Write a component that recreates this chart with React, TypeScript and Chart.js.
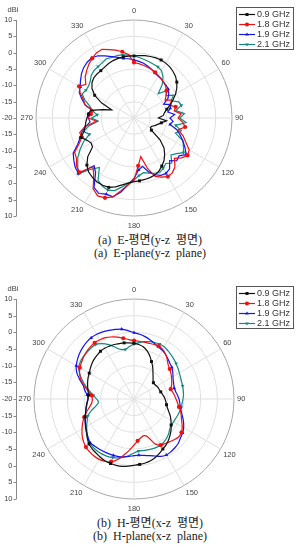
import React, { useEffect, useRef } from 'react';
import { Chart, registerables } from 'chart.js';
import { drawPoint } from 'chart.js/helpers';

Chart.register(...registerables);

// ---------- data ----------
const ANGLE_LABELS = [
  '0', '5', '10', '15', '20', '25', '30', '35', '40', '45', '50', '55',
  '60', '65', '70', '75', '80', '85', '90', '95', '100', '105', '110', '115',
  '120', '125', '130', '135', '140', '145', '150', '155', '160', '165', '170', '175',
  '180', '185', '190', '195', '200', '205', '210', '215', '220', '225', '230', '235',
  '240', '245', '250', '255', '260', '265', '270', '275', '280', '285', '290', '295',
  '300', '305', '310', '315', '320', '325', '330', '335', '340', '345', '350', '355',
];

const RING_MIN = -20;
const RING_MAX = 10;
const RING_STEP = 5;

const SERIES_NAMES = ['0.9 GHz', '1.8 GHz', '1.9 GHz', '2.1 GHz'];

// E-plane (y-z plane)
const E_09 = [
  -1.0, -0.8, -0.6, -0.5, -0.4, -0.4, -0.6, -0.9, -1.4, -2.0,
  -2.9, -4.0, -5.3, -6.8, -8.2, -9.6, -10.5, -11.0, -12.5, -10.0,
  -11.5, -12.5, -13.2, -14.0, -14.2, -13.5, -9.6, -7.0, -5.4, -4.0,
  -3.0, -2.0, -1.4, -1.1, -0.9, -0.7, -0.5, 0.0, 0.8, 1.8,
  2.6, 2.7, 2.6, 2.2, 1.6, 0.4, -1.5, -4.5, -4.8, -4.0,
  -2.7, -4.2, -4.8, -5.2, -5.6, -6.0, -6.5, -10.0, -12.7, -9.0,
  -6.1, -4.3, -3.2, -2.6, -2.4, -2.3, -2.0, -1.6, -1.3, -1.1,
  -1.0, -1.0,
];
const E_18 = [
  -3.0, -3.3, -3.6, -3.9, -4.2, -4.6, -5.0, -5.4, -5.8, -6.3,
  -7.0, -8.0, -9.0, -7.0, -8.5, -6.8, -7.5, -5.5, -6.5, -5.0,
  -4.1, -6.0, -4.0, -2.5, -0.5, 0.0, -1.0, -2.5, -0.5, 0.5,
  0.7, 0.0, -1.0, -4.0, -8.0, -5.3, -1.0, 0.5, 2.5, 5.0,
  6.0, 6.3, 5.0, 1.5, -0.5, 3.5, 3.0, 1.5, 1.0, -1.5,
  -3.0, -2.8, -4.7, -8.5, -6.0, -6.7, -7.5, -4.5, -3.5, -1.8,
  -0.6, -2.0, -0.5, 0.5, 1.5, 2.3, 3.0, 3.2, 2.3, 1.5,
  0.6, -0.5,
];
const E_19 = [
  -2.2, -2.6, -3.0, -3.6, -4.2, -4.8, -5.2, -5.5, -5.8, -6.0,
  -6.3, -7.0, -8.0, -10.0, -8.0, -8.5, -9.5, -7.5, -9.0, -8.0,
  -8.8, -6.5, -5.0, -3.5, -2.0, -0.5, -2.0, -1.5, -3.0, -1.0,
  -0.4, -0.6, -1.5, -3.0, -5.0, -4.0, -1.5, 0.5, 3.0, 5.0,
  4.8, 5.5, 4.5, 0.5, -1.0, 4.0, 3.5, 2.5, 1.5, -1.0,
  -2.5, -3.5, -5.0, -6.5, -6.0, -6.0, -7.0, -4.5, -3.0, -1.5,
  -1.0, 0.0, 1.0, 1.8, 2.3, 2.5, 2.0, 1.0, 0.0, -0.8,
  -1.5, -1.8,
];
const E_21 = [
  -1.0, -1.4, -1.8, -2.2, -2.5, -2.7, -3.2, -4.5, -6.5, -9.5,
  -7.0, -8.0, -6.0, -7.5, -5.5, -5.0, -7.0, -4.5, -6.0, -4.0,
  -7.0, -5.0, -6.5, -3.5, -2.5, -1.5, -3.0, -4.0, -2.0, -3.0,
  -2.2, -1.5, -2.0, -2.5, -3.0, -2.3, -1.0, 0.0, 1.5, 3.0,
  3.5, 3.0, 2.0, -1.5, 0.5, 4.2, 2.5, 1.0, -1.0, -3.0,
  -5.5, -4.0, -6.0, -9.0, -7.0, -8.7, -7.0, -6.0, -4.0, -2.5,
  -3.0, -3.0, -2.5, -1.5, -1.0, -0.8, -0.5, 0.0, -0.3, -0.2,
  -0.4, -0.7,
];

// H-plane (x-z plane)
const H_09 = [
  -3.3, -3.6, -4.1, -5.0, -6.2, -7.6, -8.8, -10.1, -11.1, -11.9,
  -12.4, -12.4, -12.2, -12.0, -11.9, -11.7, -11.4, -11.0, -10.7, -10.4,
  -10.1, -9.6, -8.9, -8.0, -7.2, -6.4, -5.5, -4.7, -3.9, -3.2,
  -2.7, -2.0, -1.3, -0.8, -0.5, -0.3, -0.1, 0.2, 0.5, 0.6,
  0.6, 0.5, 0.2, -0.2, -0.5, -0.9, -1.7, -2.6, -3.3, -3.9,
  -4.4, -5.0, -5.4, -5.8, -6.2, -6.3, -6.0, -5.6, -5.2, -4.8,
  -4.5, -4.0, -3.5, -3.1, -2.8, -2.5, -2.4, -2.5, -2.6, -2.8,
  -2.9, -3.1,
];
const H_18 = [
  -2.5, -2.6, -2.7, -2.7, -2.6, -2.5, -2.8, -3.5, -4.5, -5.5,
  -6.0, -6.5, -7.0, -7.5, -8.0, -8.6, -8.2, -7.8, -7.4, -6.9,
  -6.3, -5.5, -4.9, -4.2, -3.3, -2.6, -2.4, -2.8, -3.3, -3.7,
  -4.0, -5.2, -7.9, -8.6, -8.2, -7.4, -6.2, -4.6, -3.0, -1.2,
  0.0, 0.6, 0.9, 0.9, 0.7, 0.4, -0.2, -1.0, -2.0, -3.0,
  -4.1, -5.3, -6.5, -7.3, -7.5, -7.2, -6.0, -4.5, -3.0, -2.0,
  -1.2, -0.8, -0.3, 0.1, 0.4, 0.6, 0.5, 0.3, -0.2, -0.8,
  -1.5, -2.1,
];
const H_19 = [
  -0.1, -0.5, -1.0, -1.6, -2.2, -2.7, -3.1, -3.6, -4.2, -4.8,
  -5.2, -5.8, -6.5, -7.0, -7.3, -7.5, -7.3, -6.9, -6.5, -6.2,
  -5.9, -5.3, -4.5, -3.6, -2.8, -2.2, -1.8, -1.2, -0.9, -0.7,
  -0.6, -1.0, -1.8, -2.4, -2.8, -3.1, -3.0, -2.7, -2.4, -2.1,
  -2.0, -1.9, -1.8, -1.7, -1.6, -1.4, -2.0, -2.6, -3.2, -3.8,
  -4.4, -5.0, -5.5, -5.9, -6.2, -5.9, -5.0, -4.2, -2.6, -1.0,
  0.0, 0.7, 1.3, 1.8, 2.2, 2.4, 2.4, 2.2, 1.9, 1.6,
  1.3, 0.6,
];
const H_21 = [
  -3.5, -3.0, -2.5, -2.2, -2.0, -1.8, -1.9, -2.3, -2.7, -3.1,
  -3.5, -3.9, -4.3, -4.6, -4.8, -4.9, -5.0, -5.1, -5.3, -5.5,
  -5.6, -5.8, -6.0, -6.2, -6.3, -6.3, -6.0, -5.3, -4.7, -4.3,
  -4.0, -4.0, -4.1, -4.2, -4.3, -4.3, -3.8, -3.0, -2.3, -1.7,
  -1.3, -1.0, -0.9, -0.9, -1.0, -1.3, -2.0, -2.8, -3.6, -4.5,
  -5.3, -6.8, -8.5, -9.3, -8.8, -7.8, -6.5, -5.0, -3.5, -2.0,
  -0.8, -0.4, -0.2, -0.1, 0.0, 0.0, -0.8, -2.0, -3.5, -4.6,
  -4.9, -4.2,
];

const CAPTION_E = ['(a)  E-평면(y-z  평면)', '(a)  E-plane(y-z  plane)'];
const CAPTION_H = ['(b)  H-평면(x-z  평면)', '(b)  H-plane(x-z  plane)'];

// ---------- styles ----------
const COLORS = ['#111111', '#f01010', '#1414f0', '#138a80'];
const POINT_STYLES = ['rect', 'circle', 'triangle', 'triangle'];
const POINT_ROT = [0, 0, 0, 180];
const FONT = '"Liberation Sans", Arial, sans-serif';

const sideAxis = {
  id: 'sideAxis',
  afterDraw(chart: any) {
    const r = chart.scales.r;
    const ctx = chart.ctx;
    const yc = r.yCenter;
    const R = r.drawingArea;
    const ax = 16.5;
    ctx.save();
    ctx.strokeStyle = '#8a8a8a';
    ctx.lineWidth = 1;
    ctx.beginPath();
    ctx.moveTo(ax, yc - R);
    ctx.lineTo(ax, yc + R);
    ctx.stroke();
    ctx.font = `7.5px ${FONT}`;
    ctx.fillStyle = '#444';
    ctx.textAlign = 'right';
    ctx.textBaseline = 'middle';
    for (const t of r.ticks) {
      const d = r.getDistanceFromCenterForValue(t.value);
      const ys = d < 0.5 ? [yc] : [yc - d, yc + d];
      for (const y of ys) {
        const yy = Math.round(y) + 0.5;
        ctx.beginPath();
        ctx.moveTo(ax - 3, yy);
        ctx.lineTo(ax, yy);
        ctx.stroke();
        ctx.fillText(String(t.value), ax - 4, y);
      }
    }
    ctx.textAlign = 'center';
    ctx.fillText('dBi', 13, yc - R - 10);
    ctx.restore();
  },
};

const boxLegend = {
  id: 'boxLegend',
  afterDraw(chart: any) {
    const r = chart.scales.r;
    const ctx = chart.ctx;
    const top = Math.round(r.yCenter - r.drawingArea - 13);
    const left = 236;
    const w = 57;
    const h = 42;
    ctx.save();
    ctx.fillStyle = '#fff';
    ctx.fillRect(left, top, w, h);
    ctx.strokeStyle = '#555';
    ctx.lineWidth = 1;
    ctx.strokeRect(left + 0.5, top + 0.5, w, h);
    ctx.font = `9px ${FONT}`;
    ctx.textBaseline = 'middle';
    ctx.textAlign = 'left';
    chart.data.datasets.forEach((ds: any, i: number) => {
      const y = Math.round(top + 6.5 + i * 10) + 0.5;
      ctx.strokeStyle = ds.borderColor;
      ctx.lineWidth = 1.2;
      ctx.beginPath();
      ctx.moveTo(left + 3, y);
      ctx.lineTo(left + 19, y);
      ctx.stroke();
      ctx.fillStyle = ds.borderColor;
      drawPoint(ctx, { pointStyle: ds.pointStyle, radius: 2.1, rotation: ds.pointRotation || 0, borderWidth: 0 } as any, left + 11, y);
      ctx.fillStyle = '#333';
      ctx.fillText(ds.label, left + 21, y + 0.5);
    });
    ctx.restore();
  },
};

function makeConfig(series: number[][], tension: number, padTop: number, padBottom: number): any {
  return {
    type: 'radar',
    data: {
      labels: ANGLE_LABELS,
      datasets: series.map((d, i) => ({
        label: SERIES_NAMES[i],
        data: d,
        borderColor: COLORS[i],
        backgroundColor: COLORS[i],
        pointBackgroundColor: COLORS[i],
        pointBorderColor: COLORS[i],
        pointBorderWidth: 0,
        pointStyle: POINT_STYLES[i],
        pointRotation: POINT_ROT[i],
        pointRadius: (c: any) => (c.index % 5 === 0 ? 2.1 : 0),
        pointHoverRadius: 0,
        borderWidth: 1.2,
        tension,
        fill: false,
      })),
    },
    options: {
      responsive: false,
      animation: false,
      events: [],
      layout: { padding: { top: padTop, bottom: padBottom, left: 0, right: 28 } },
      plugins: {
        legend: { display: false },
        tooltip: { enabled: false },
        title: { display: false },
      },
      scales: {
        r: {
          min: RING_MIN,
          max: RING_MAX,
          beginAtZero: false,
          startAngle: 0,
          ticks: { stepSize: RING_STEP, display: false },
          grid: {
            circular: true,
            color: (c: any) => (c.tick && c.tick.value === RING_MAX ? '#a8a8a8' : '#e0e0e0'),
            lineWidth: 1,
          },
          angleLines: {
            color: '#e0e0e0',
            lineWidth: (c: any) => (c.index % 6 === 0 ? 1 : 0),
          },
          pointLabels: {
            font: { size: 7.5, family: FONT },
            color: '#444',
            padding: (c: any) => (c.index === 0 || c.index === 36 ? 5 : 3),
            callback: (label: string, index: number) => (index % 6 === 0 ? label : ''),
          },
        },
      },
    },
    plugins: [sideAxis, boxLegend],
  };
}

function PolarPanel(props: { series: number[][]; tension: number; top: number; height: number; padTop: number; padBottom: number }) {
  const ref = useRef<HTMLCanvasElement | null>(null);
  useEffect(() => {
    if (!ref.current) return;
    const chart = new Chart(ref.current, makeConfig(props.series, props.tension, props.padTop, props.padBottom));
    return () => chart.destroy();
  }, []);
  return (
    <canvas
      ref={ref}
      width={296}
      height={props.height}
      style={{ position: 'absolute', left: 0, top: props.top, width: 296, height: props.height }}
    />
  );
}

function Caption(props: { lines: string[]; top: number }) {
  return (
    <div
      style={{
        position: 'absolute',
        left: 4,
        width: 292,
        top: props.top,
        textAlign: 'center',
        fontFamily: '"Liberation Serif", "Times New Roman", "Noto Sans CJK KR", serif',
        fontSize: 12,
        lineHeight: '12.6px',
        whiteSpace: 'pre',
        color: '#1a1a1a',
      }}
    >
      <div>{props.lines[0]}</div>
      <div>{props.lines[1]}</div>
    </div>
  );
}

export default function App() {
  return (
    <div style={{ position: 'absolute', left: 0, top: 0, width: 296, height: 559, overflow: 'hidden', background: '#fff' }}>
      <PolarPanel series={[E_09, E_18, E_19, E_21]} tension={0} top={0} height={232} padTop={6} padBottom={2} />
      <Caption lines={CAPTION_E} top={234} />
      <PolarPanel series={[H_09, H_18, H_19, H_21]} tension={0.3} top={270} height={245} padTop={15} padBottom={2} />
      <Caption lines={CAPTION_H} top={517} />
    </div>
  );
}
